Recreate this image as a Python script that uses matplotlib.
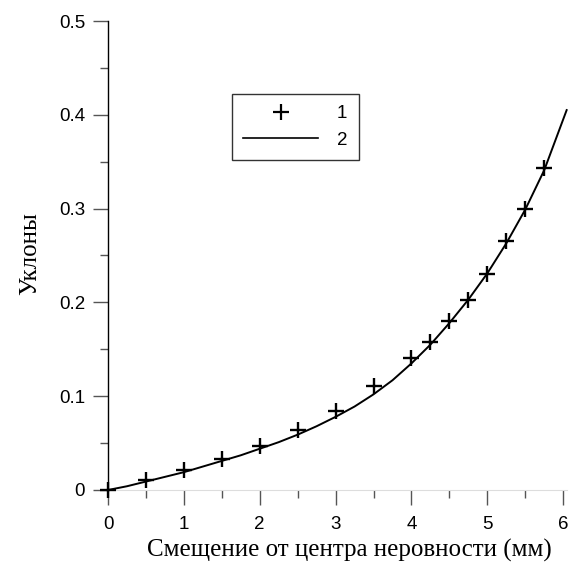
import matplotlib
matplotlib.use("Agg")
import matplotlib.pyplot as plt
from matplotlib.lines import Line2D
from matplotlib.ticker import MultipleLocator

# Data series 1: measured points (+)
x_points = [0, 0.5, 1, 1.5, 2, 2.5, 3, 3.5, 4, 4.25, 4.5, 4.75, 5, 5.25, 5.5, 5.75]
y_points = [0.0, 0.011, 0.021, 0.033, 0.047, 0.064, 0.084, 0.111, 0.141, 0.158,
            0.180, 0.203, 0.230, 0.265, 0.300, 0.343]

# Data series 2: smooth curve
x_curve = [0, 0.25, 0.5, 0.75, 1, 1.25, 1.5, 1.75, 2, 2.25, 2.5, 2.75, 3, 3.25,
           3.5, 3.75, 4, 4.25, 4.5, 4.75, 5, 5.25, 5.5, 5.75, 6.05]
y_curve = [0.0, 0.004, 0.009, 0.014, 0.019, 0.025, 0.031, 0.037, 0.044, 0.051,
           0.059, 0.068, 0.078, 0.089, 0.102, 0.117, 0.135, 0.155, 0.178, 0.203,
           0.231, 0.263, 0.299, 0.341, 0.406]

x_ticks = [0, 1, 2, 3, 4, 5, 6]
y_ticks = [0, 0.1, 0.2, 0.3, 0.4, 0.5]
y_tick_labels = ["0", "0.1", "0.2", "0.3", "0.4", "0.5"]

xlabel = "Смещение от центра неровности (мм)"
ylabel = "Уклоны"
legend_labels = ["1", "2"]

fig = plt.figure(figsize=(5.72, 5.68), dpi=100)
ax = fig.add_axes([108/572, 1-490/568, (567-108)/572, (490-21)/568])

ax.plot(x_curve, y_curve, color="black", lw=1.4, solid_capstyle="butt", clip_on=False)
ax.plot(x_points, y_points, ls="none", marker="+", ms=12, mew=1.7, color="black",
        clip_on=False, zorder=5)

ax.set_xlim(0, 6.05)
ax.set_ylim(0, 0.5)
ax.set_xticks(x_ticks)
ax.set_xticklabels([str(t) for t in x_ticks])
ax.set_yticks(y_ticks)
ax.set_yticklabels(y_tick_labels)
ax.xaxis.set_minor_locator(MultipleLocator(0.5))
ax.yaxis.set_minor_locator(MultipleLocator(0.05))

for s in ["top", "right"]:
    ax.spines[s].set_visible(False)
ax.spines["left"].set_color("black")
ax.spines["left"].set_linewidth(1.0)
ax.spines["bottom"].set_color("#dddddd")
ax.spines["bottom"].set_linewidth(0.8)

ax.tick_params(axis="both", which="major", direction="out", length=11, width=1.0,
               color="#555555", labelsize=13.5, labelfontfamily="Liberation Sans")
ax.tick_params(axis="both", which="minor", direction="out", length=5.5, width=1.0,
               color="#555555")
ax.tick_params(axis="x", which="major", pad=8)
ax.tick_params(axis="y", which="major", pad=5.5)

ax.set_xlabel(xlabel, fontsize=18, family="Liberation Serif")
ax.xaxis.set_label_coords((349-108)/459, -(550-490)/469, transform=ax.transAxes)
ax.xaxis.label.set_va("center")
ax.set_ylabel(ylabel, fontsize=18, family="Liberation Serif")
ax.yaxis.set_label_coords(-(108-30)/459, 0.505, transform=ax.transAxes)
ax.yaxis.label.set_va("center")

handles = [Line2D([], [], ls="none", marker="+", ms=11, mew=1.6, color="black"),
           Line2D([], [], color="black", lw=1.2)]
leg = ax.legend(handles, legend_labels, loc="upper left",
                bbox_to_anchor=(232/572, 1-94/568), bbox_transform=fig.transFigure,
                borderaxespad=0,
                frameon=True, fancybox=False, edgecolor="black", handlelength=4.0,
                handletextpad=1.0, borderpad=0.6, labelspacing=0.5,
                prop={"family": "Liberation Sans", "size": 13.5})
leg.get_frame().set_linewidth(1.0)

fig.savefig("out.png", dpi=100, facecolor="white")
